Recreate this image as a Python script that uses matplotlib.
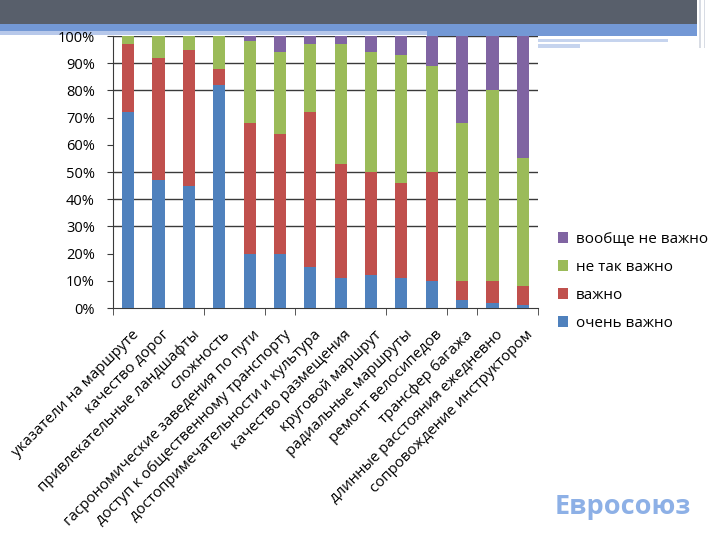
import numpy as np
import matplotlib
matplotlib.use('Agg')
import matplotlib.pyplot as plt
from matplotlib.patches import Rectangle

plt.rcParams['font.family'] = ['Open Sans', 'DejaVu Sans']

# Data (percent of answers)
categories = ['указатели на маршруте', 'качество дорог', 'привлекательные ландшафты',
              'сложность', 'гасрономические заведения по пути',
              'доступ к общественному транспорту', 'достопримечательности и культура',
              'качество размещения', 'круговой маршрут', 'радиальные маршруты',
              'ремонт велосипедов', 'трансфер багажа', 'длинные расстояния ежедневно',
              'сопровождение инструктором']
very_important = [72, 47, 45, 82, 20, 20, 15, 11, 12, 11, 10, 3, 2, 1]
important = [25, 45, 50, 6, 48, 44, 57, 42, 38, 35, 40, 7, 8, 7]
not_so_important = [3, 8, 5, 12, 30, 30, 25, 44, 44, 47, 39, 58, 70, 47]
not_important = [0, 0, 0, 0, 2, 6, 3, 3, 6, 7, 11, 32, 20, 45]

series_names = ['очень важно', 'важно', 'не так важно', 'вообще не важно']
colors = ['#4F81BD', '#C0504D', '#9BBB59', '#8064A2']
grid_levels = [30, 40, 50, 80, 90, 100]
boundary_ticks = [0, 3, 5, 6, 9, 11, 12, 14]

fig = plt.figure(figsize=(7.2, 5.4), dpi=100)

# Slide decoration (header bands)
bg = fig.add_axes([0, 0, 1, 1], zorder=-1)
bg.set_xlim(0, 720)
bg.set_ylim(540, 0)
bg.axis('off')
bg.add_patch(Rectangle((0, 0), 697, 24, color='#585F6B', lw=0))
bg.add_patch(Rectangle((0, 24), 697, 7, color='#7398D5', lw=0))
bg.add_patch(Rectangle((0, 31), 427, 4, color='#B7C8EA', lw=0))
bg.add_patch(Rectangle((427, 31), 270, 5, color='#7398D5', lw=0))
bg.add_patch(Rectangle((438, 39), 230, 3, color='#C6D4EE', lw=0))
bg.add_patch(Rectangle((438, 44), 142, 4, color='#C6D4EE', lw=0))
bg.add_patch(Rectangle((699, 0), 2, 48, color='#D8DCE4', lw=0))
bg.add_patch(Rectangle((704, 0), 1, 48, color='#D8DCE4', lw=0))

ax = fig.add_axes([113 / 720, 1 - 308 / 540, 425 / 720, 272 / 540])

x = np.arange(len(categories))
data = [very_important, important, not_so_important, not_important]
bottom = np.zeros(len(categories))
bars = []
for vals, name, c in zip(data, series_names, colors):
    b = ax.bar(x, vals, 0.4, bottom=bottom, color=c, label=name, zorder=3)
    bars.append(b)
    bottom += np.array(vals)

for g in grid_levels:
    ax.axhline(g, color='#3A3A3A', lw=1, zorder=1)

ax.set_xlim(-0.5, len(categories) - 0.5)
ax.set_ylim(0, 100)
ax.set_yticks(range(0, 101, 10))
ax.set_yticklabels([f'{v}%' for v in range(0, 101, 10)], fontsize=10.5)
ax.tick_params(axis='y', length=4, pad=9, color='#3A3A3A')

ax.set_xticks(x + 0.1)
ax.set_xticklabels(categories, rotation=45, ha='right', rotation_mode='anchor', fontsize=10.8)
ax.tick_params(axis='x', length=0, pad=14)
ax.set_xticks(np.array(boundary_ticks) - 0.5, minor=True)
ax.tick_params(axis='x', which='minor', length=5, color='#3A3A3A')

for s in ['top', 'right']:
    ax.spines[s].set_visible(False)
for s in ['left', 'bottom']:
    ax.spines[s].set_color('#3A3A3A')

handles = [bars[3], bars[2], bars[1], bars[0]]
labels = [series_names[3], series_names[2], series_names[1], series_names[0]]
fig.legend(handles, labels, loc='upper left', bbox_to_anchor=(544 / 720, 1 - 218 / 540),
           frameon=False, fontsize=11, handlelength=0.7, handleheight=0.7,
           handletextpad=0.5, labelspacing=0.85)

fig.text(555 / 720, 1 - 507 / 540, 'Евросоюз', fontsize=19.5, fontweight='bold',
         color='#8DB0E6', va='center', ha='left')

fig.savefig('out.png', dpi=100)
